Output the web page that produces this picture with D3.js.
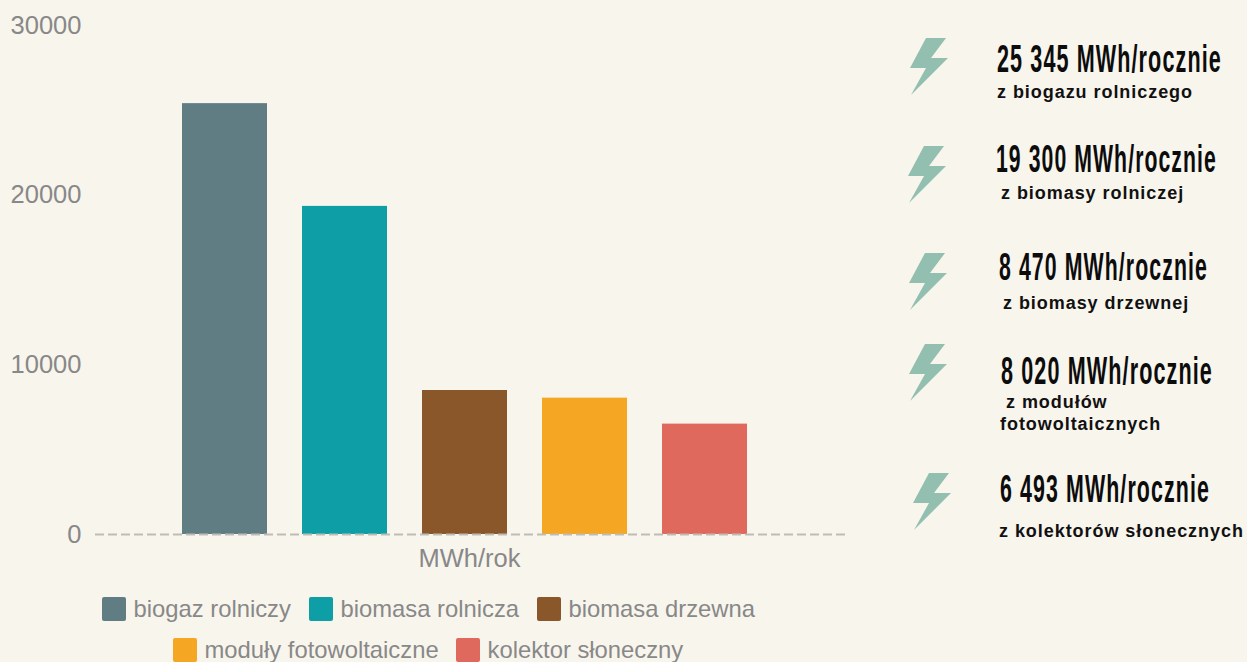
<!DOCTYPE html>
<html>
<head>
<meta charset="utf-8">
<script src="https://cdn.jsdelivr.net/npm/d3@7"></script>
<style>
  html, body { margin: 0; padding: 0; background: #f8f5ed; overflow: hidden; }
  svg { display: block; }
  text { font-family: "Liberation Sans", Arial, sans-serif; }
</style>
</head>
<body>
<div id="chart"></div>
<script>
// chart data
const categories = ["biogaz rolniczy", "biomasa rolnicza", "biomasa drzewna", "moduły fotowoltaiczne", "kolektor słoneczny"];
const values = [25345, 19300, 8470, 8020, 6493];
const yTicks = [0, 10000, 20000, 30000];
const colors = ["#607d84", "#0e9ea5", "#8a572a", "#f5a623", "#e0695d"];
const axisLabel = "MWh/rok";

// side panel texts
const headlines = ["25 345 MWh/rocznie", "19 300 MWh/rocznie", "8 470 MWh/rocznie", "8 020 MWh/rocznie", "6 493 MWh/rocznie"];
const sublines = [["z biogazu rolniczego"], ["z biomasy rolniczej"], ["z biomasy drzewnej"], ["z modułów", "fotowoltaicznych"], ["z kolektorów słonecznych"]];

const width = 1247, height = 662;

const svg = d3.select("#chart").append("svg")
    .attr("width", width)
    .attr("height", height);

// scales
const xScale = d3.scaleBand()
    .domain(categories)
    .range([164.5, 764.5])
    .paddingInner(35 / 120)
    .paddingOuter(17.5 / 120);

const yScale = d3.scaleLinear()
    .domain([0, 30000])
    .range([534, 24]);

// y axis, only the labels are visible
const yAxis = d3.axisLeft(yScale).tickValues(yTicks).tickFormat(d3.format("d")).tickSize(0).tickPadding(13.5);
const yG = svg.append("g")
    .attr("transform", "translate(95,0)")
    .call(yAxis);
yG.select(".domain").remove();
yG.selectAll("text")
    .attr("font-family", "Liberation Sans")
    .attr("font-size", "25.5px")
    .attr("fill", "#888888")
    .attr("dy", "0.35em")
    .attr("y", (d, i) => i === 3 ? 1 : 0);

// bars
svg.selectAll("rect.bar")
    .data(values)
    .enter()
    .append("rect")
    .attr("class", "bar")
    .attr("x", (d, i) => xScale(categories[i]))
    .attr("y", d => yScale(d))
    .attr("width", xScale.bandwidth())
    .attr("height", d => yScale(0) - yScale(d))
    .attr("fill", (d, i) => colors[i]);

// dashed baseline
svg.append("line")
    .attr("x1", 95)
    .attr("x2", 846)
    .attr("y1", yScale(0) + 0.5)
    .attr("y2", yScale(0) + 0.5)
    .attr("stroke", "#bdbdb6")
    .attr("stroke-width", 2)
    .attr("stroke-dasharray", "9,4");

svg.append("text")
    .attr("x", 469.5)
    .attr("y", 567)
    .attr("text-anchor", "middle")
    .attr("font-size", "25.5px")
    .attr("fill", "#888888")
    .text(axisLabel);

// legend, two rows
const legendX = [102, 309, 537, 173, 456];
const legendY = [597, 597, 597, 638, 638];

const legend = svg.selectAll("g.legend")
    .data(categories)
    .enter()
    .append("g")
    .attr("class", "legend")
    .attr("transform", (d, i) => "translate(" + legendX[i] + "," + legendY[i] + ")");

legend.append("rect")
    .attr("width", 24)
    .attr("height", 24)
    .attr("rx", 2)
    .attr("fill", (d, i) => colors[i]);

legend.append("text")
    .attr("x", 31.5)
    .attr("y", 20)
    .attr("font-size", "23.8px")
    .attr("fill", "#888888")
    .text(d => d);

// side panel
const boltShape = [[16, 0], [36, 0], [21, 20], [38, 20], [1, 57], [16, 30], [0, 30]];
const boltX = [910, 908, 909, 909, 913];
const boltY = [38, 146, 253, 344, 473];
const headX = [997, 996, 999, 1001, 1000];
const headY = [72, 172, 280, 384, 502];
const headW = [225, 221, 209, 212, 210];
const subX = [997, 1001, 1003, 1006, 999];
const subY = [98, 199, 309, 408, 537];

const bolt = d3.line();

svg.selectAll("path.bolt")
    .data(headlines)
    .enter()
    .append("path")
    .attr("class", "bolt")
    .attr("transform", (d, i) => "translate(" + boltX[i] + "," + boltY[i] + ")")
    .attr("d", bolt(boltShape) + "Z")
    .attr("fill", "#92bfaf");

// headlines are a condensed face in the original, squeeze them to the measured width
svg.selectAll("text.head")
    .data(headlines)
    .enter()
    .append("text")
    .attr("class", "head")
    .attr("font-size", "39px")
    .attr("font-weight", "bold")
    .attr("letter-spacing", "2px")
    .attr("fill", "#0c0c0c")
    .text(d => d)
    .attr("transform", function (d, i) {
        const sx = headW[i] / this.getComputedTextLength();
        return "translate(" + headX[i] + "," + headY[i] + ") scale(" + sx + ",1)";
    });

sublines.forEach(function (lines, i) {
    lines.forEach(function (line, j) {
        svg.append("text")
            .attr("x", j === 0 ? subX[i] : 1000)
            .attr("y", subY[i] + j * 22)
            .attr("font-size", "18px")
            .attr("font-weight", "bold")
            .attr("letter-spacing", "0.95px")
            .attr("fill", "#111111")
            .text(line);
    });
});
</script>
</body>
</html>
